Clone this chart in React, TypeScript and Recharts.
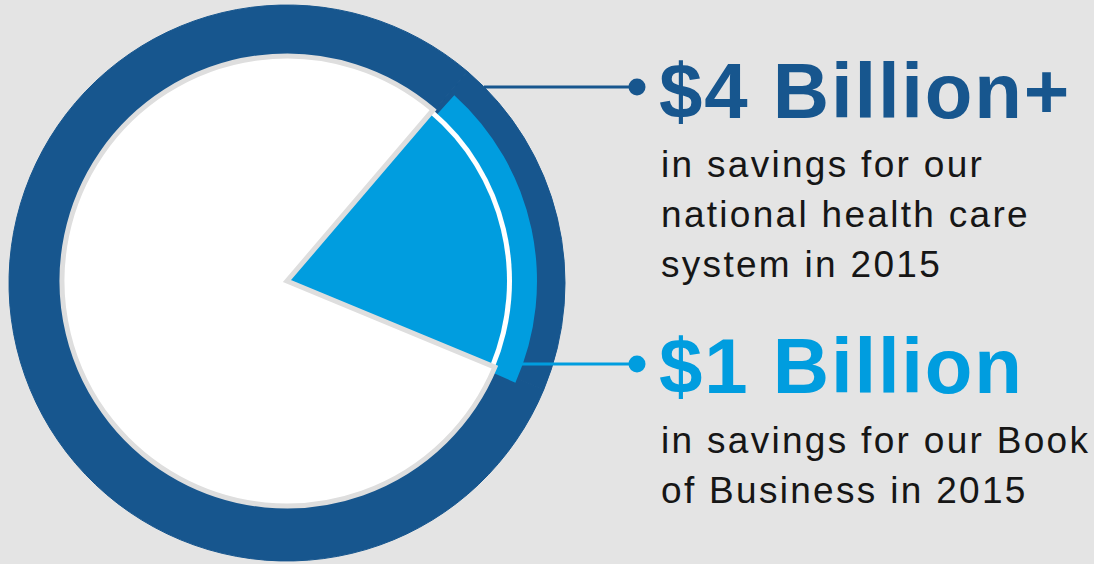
import React from 'react';
import { PieChart, Pie, Cell } from 'recharts';

const SEGMENTS = ['Book of Business', 'Rest of national system'];
const SAVINGS = [1, 4]; // billions of dollars
const HEADLINES = ['$4 Billion+', '$1 Billion'];
const NATIONAL_LINES = ['in savings for our', 'national health care', 'system in 2015'];
const BOOK_LINES = ['in savings for our Book', 'of Business in 2015'];

const DARK = '#17568e';
const LIGHT = '#009ddf';
const BG = '#e4e4e4';
const EDGE = '#dedede';

const W = 1094;
const H = 564;
const CX = 287;
const CY = 281;
const START = -22.5;

const pieData = SEGMENTS.map((name, i) => ({ name, value: SAVINGS[i] }));

const headFont = { fontFamily: '"Liberation Sans", Arial, sans-serif', fontWeight: 700, fontSize: 78, letterSpacing: 1.8 };
const bodyFont = { fontFamily: '"Liberation Sans", Arial, sans-serif', fontSize: 37, letterSpacing: 2.3, fill: '#161616' };

export default function App() {
  return (
    <div style={{ position: 'fixed', left: 0, top: 0, width: W, height: H, background: BG, overflow: 'hidden' }}>
      <PieChart width={W} height={H} margin={{ top: 0, right: 0, bottom: 0, left: 0 }}>
        {/* outer dark ring */}
        <Pie data={pieData} dataKey="value" cx={CX} cy={CY + 2} outerRadius={278} innerRadius={0}
          startAngle={START} endAngle={START + 360} isAnimationActive={false}>
          {pieData.map((d, i) => <Cell key={i} fill={DARK} stroke={DARK} strokeWidth={1} />)}
        </Pie>
        {/* highlight band around the book of business share */}
        <Pie data={pieData} dataKey="value" cx={CX} cy={CY} outerRadius={250} innerRadius={223}
          startAngle={START - 1.5} endAngle={START - 1.5 + 360} minAngle={6.7} stroke="none" isAnimationActive={false}>
          {pieData.map((d, i) => <Cell key={i} fill={i === 0 ? LIGHT : 'transparent'} stroke="none" />)}
        </Pie>
        {/* white base under the wedge */}
        <Pie data={pieData} dataKey="value" cx={CX} cy={CY} outerRadius={225}
          startAngle={START} endAngle={START + 360} stroke="none" isAnimationActive={false}>
          {pieData.map((d, i) => <Cell key={i} fill={i === 0 ? '#ffffff' : 'transparent'} stroke="none" />)}
        </Pie>
        {/* book of business wedge */}
        <Pie data={pieData} dataKey="value" cx={CX} cy={CY} outerRadius={220}
          startAngle={START} endAngle={START + 360} stroke="none" isAnimationActive={false}>
          {pieData.map((d, i) => <Cell key={i} fill={i === 0 ? LIGHT : 'transparent'} stroke="none" />)}
        </Pie>
        {/* remaining white slice with grey edge */}
        <Pie data={pieData} dataKey="value" cx={CX} cy={CY} outerRadius={225}
          startAngle={START} endAngle={START + 360} isAnimationActive={false}>
          {pieData.map((d, i) => (
            <Cell key={i} fill={i === 0 ? 'transparent' : '#ffffff'} stroke={i === 0 ? 'none' : EDGE} strokeWidth={i === 0 ? 0 : 5} />
          ))}
        </Pie>
      </PieChart>

      <svg width={W} height={H} style={{ position: 'absolute', left: 0, top: 0 }}>
        <line x1={484} y1={87} x2={637} y2={87} stroke={DARK} strokeWidth={3} />
        <circle cx={637} cy={87} r={8.5} fill={DARK} />
        <line x1={522} y1={364} x2={637} y2={364} stroke={LIGHT} strokeWidth={3} />
        <circle cx={637} cy={364} r={8.5} fill={LIGHT} />

        <text x={659} y={118} fill={DARK} style={headFont}>{HEADLINES[0]}</text>
        {NATIONAL_LINES.map((t, i) => (
          <text key={t} x={661} y={177 + i * 50} style={bodyFont}>{t}</text>
        ))}

        <text x={659} y={393} fill={LIGHT} style={headFont}>{HEADLINES[1]}</text>
        {BOOK_LINES.map((t, i) => (
          <text key={t} x={661} y={453 + i * 50} style={bodyFont}>{t}</text>
        ))}
      </svg>
    </div>
  );
}
